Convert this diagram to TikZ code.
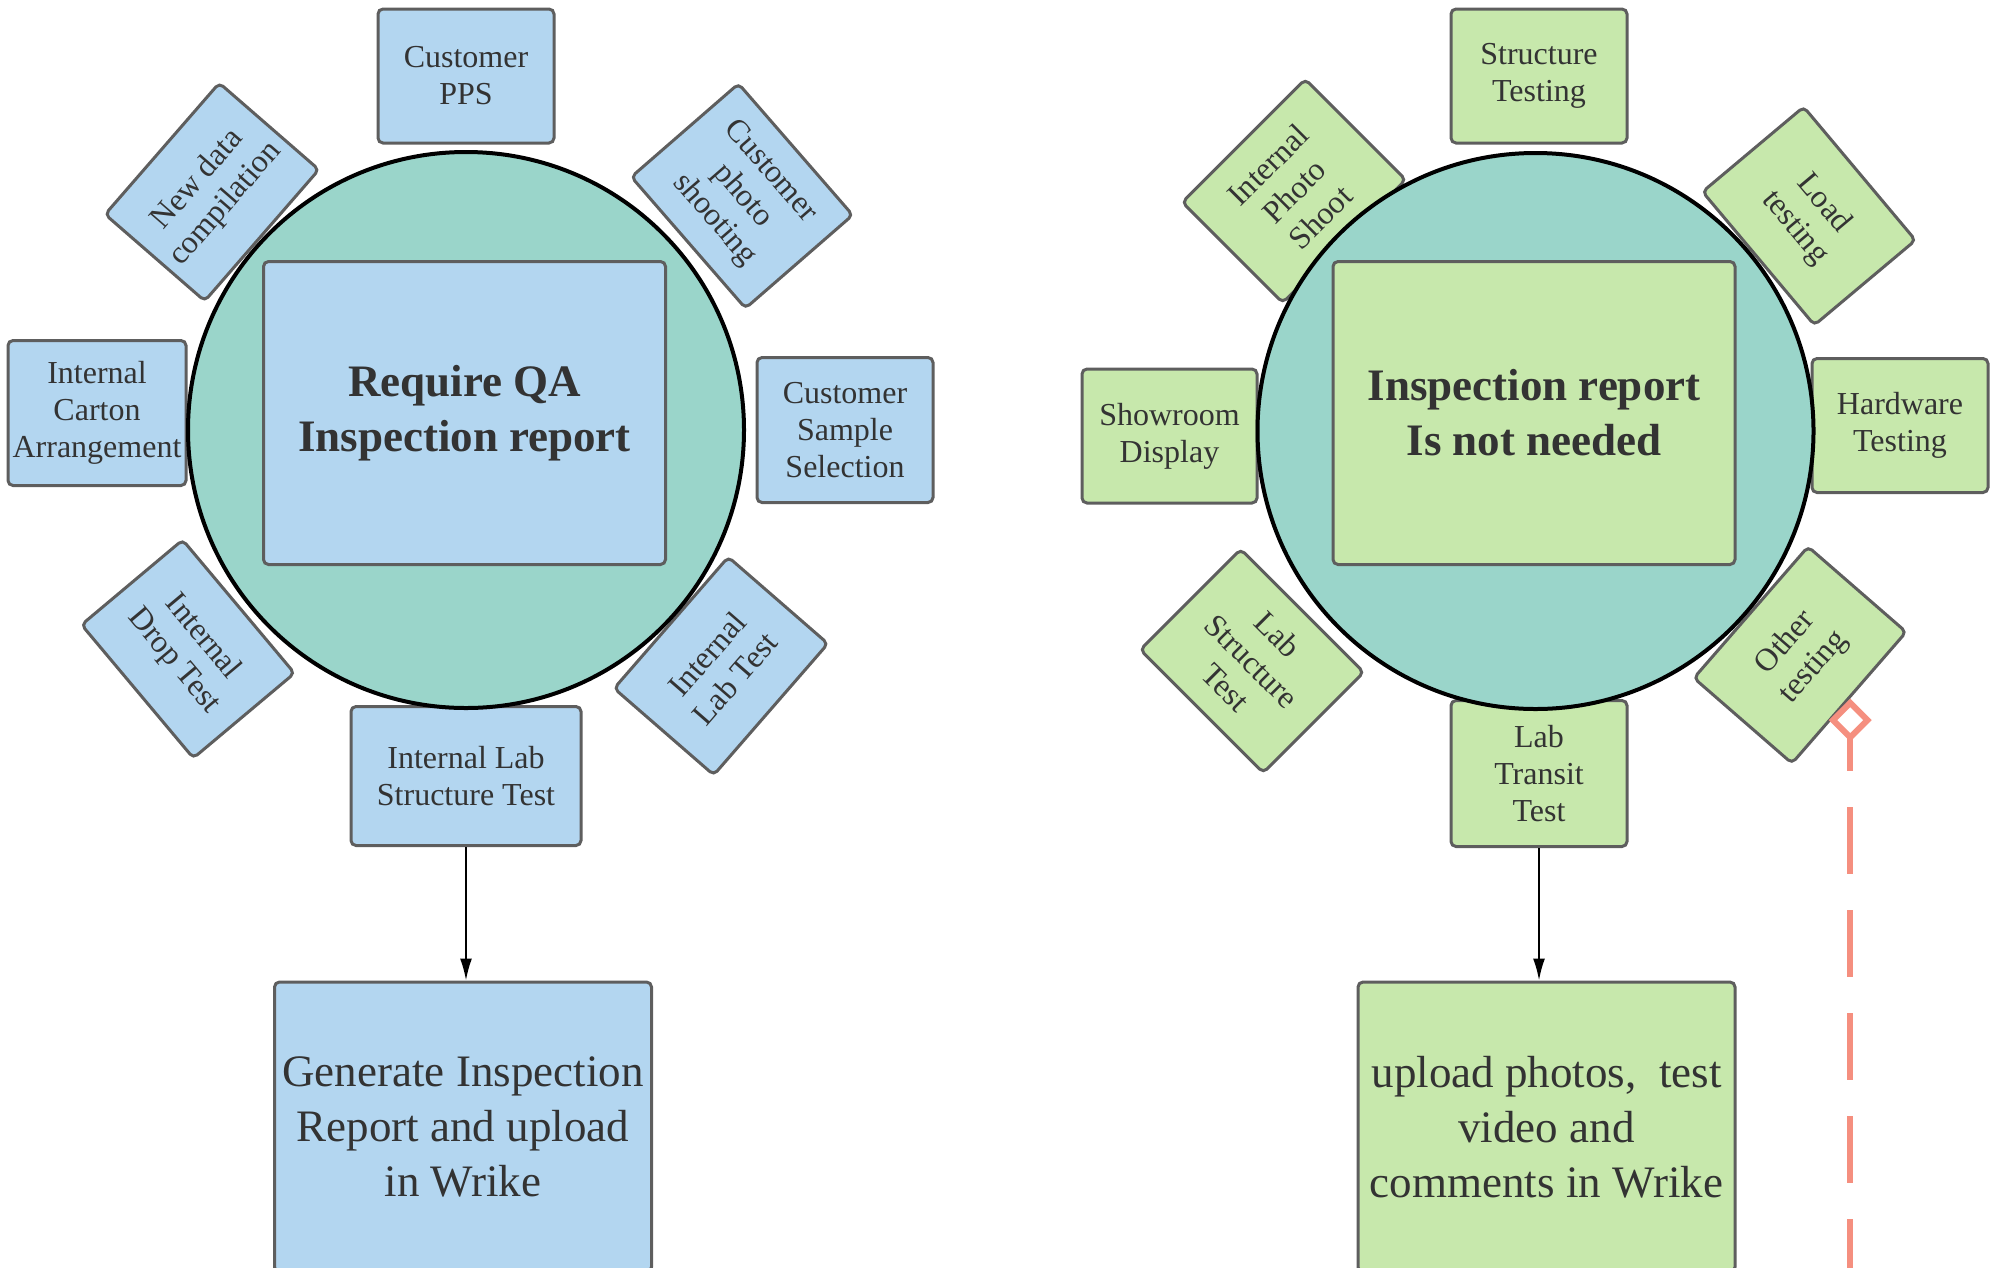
\documentclass[tikz,border=0pt]{standalone}
\usepackage{fontspec}
\setmainfont{Liberation Serif}
\usetikzlibrary{arrows.meta}
\definecolor{boxblue}{HTML}{B3D6F0}
\definecolor{boxgreen}{HTML}{C7E8AC}
\definecolor{circteal}{HTML}{9AD5CA}
\definecolor{edgegray}{HTML}{5E5E5E}
\definecolor{txtgray}{HTML}{333333}
\definecolor{salmon}{HTML}{F58F7F}
\begin{document}
\begin{tikzpicture}[x=1pt,y=-1pt,
  box/.style={draw=edgegray, line width=3pt, rounded corners=5pt, text=txtgray,
    align=center, inner sep=0pt, font=\fontsize{32}{37}\selectfont},
  bluebox/.style={box, fill=boxblue},
  greenbox/.style={box, fill=boxgreen},
  sz/.style 2 args={minimum width=#1pt, minimum height=#2pt},
  hub/.style={draw=black, line width=4pt, fill=circteal, circle, inner sep=0pt, minimum size=556pt},
  core/.style={sz={402}{303}, font=\fontsize{45}{55}\selectfont\bfseries},
  result/.style={sz={377}{290}, font=\fontsize{45}{55}\selectfont},
  flow/.style={draw=black, line width=2pt, -{Latex[length=22pt,width=12pt]}},
  link/.style={draw=salmon, line width=6pt, dash pattern=on 67pt off 36pt, dash phase=33pt,
    {Diamond[fill=white,length=43pt,width=43pt]}-}
]
\path[use as bounding box, clip] (0,0) rectangle (1996,1267);

% ---------------- left group ----------------
\node[bluebox, sz={176}{134}] (cpps) at (466,76) {Customer\\PPS};
\node[bluebox, sz={174}{132}, rotate=49] (ndc) at (212,192) {New data\\compilation};
\node[bluebox, sz={174}{142}, rotate=-49] (cps) at (742,196) {Customer\\photo\\shooting};
\node[bluebox, sz={178}{145}] (ica) at (97,413) {Internal\\Carton\\Arrangement};
\node[bluebox, sz={176}{145}] (css) at (845,430) {Customer\\Sample\\Selection};
\node[bluebox, sz={174}{132}, rotate=-50] (idt) at (188,649) {Internal\\Drop Test};
\node[bluebox, sz={174}{132}, rotate=49] (ilt) at (721,666) {Internal\\Lab Test};
\node[bluebox, sz={230}{139}] (ilst) at (466,776) {Internal Lab\\Structure Test};

\node[hub] (lc) at (466,430) {};
\node[bluebox, core] (lcore) at (464.5,413) {Require QA\\Inspection report};

\node[bluebox, result] (gen) at (463,1127) {Generate Inspection\\Report and upload\\in Wrike};

\draw[flow] (ilst.south) -- (ilst.south |- gen.north);

% ---------------- right group ----------------
\node[greenbox, sz={176}{134}] (st) at (1539,76) {Structure\\Testing};
\node[greenbox, sz={174}{142}, rotate=45] (ips) at (1294,191) {Internal\\Photo\\Shoot};
\node[greenbox, sz={174}{132}, rotate=-50] (lt) at (1809,216) {Load\\testing};
\node[greenbox, sz={175}{134}] (sd) at (1169.5,436) {Showroom\\Display};
\node[greenbox, sz={176}{134}] (ht) at (1900,425.5) {Hardware\\Testing};
\node[greenbox, sz={174}{142}, rotate=-45] (lst) at (1252,661) {Lab\\Structure\\Test};
\node[greenbox, sz={174}{130}, rotate=49] (ot) at (1800,655) {Other\\testing};
\node[greenbox, sz={176}{146}] (ltt) at (1539,773.5) {Lab\\Transit\\Test};

\node[hub] (rc) at (1535.5,431) {};
\node[greenbox, core] (rcore) at (1534,413) {Inspection report\\Is not needed};

\node[greenbox, result] (upl) at (1546.5,1127) {upload photos,~ test\\video and\\comments in Wrike};

\draw[flow] (ltt.south) -- (ltt.south |- upl.north);

\coordinate (lend) at (1848,1300);
\draw[link] (ot.south) -- (ot.south |- lend);
\end{tikzpicture}
\end{document}
